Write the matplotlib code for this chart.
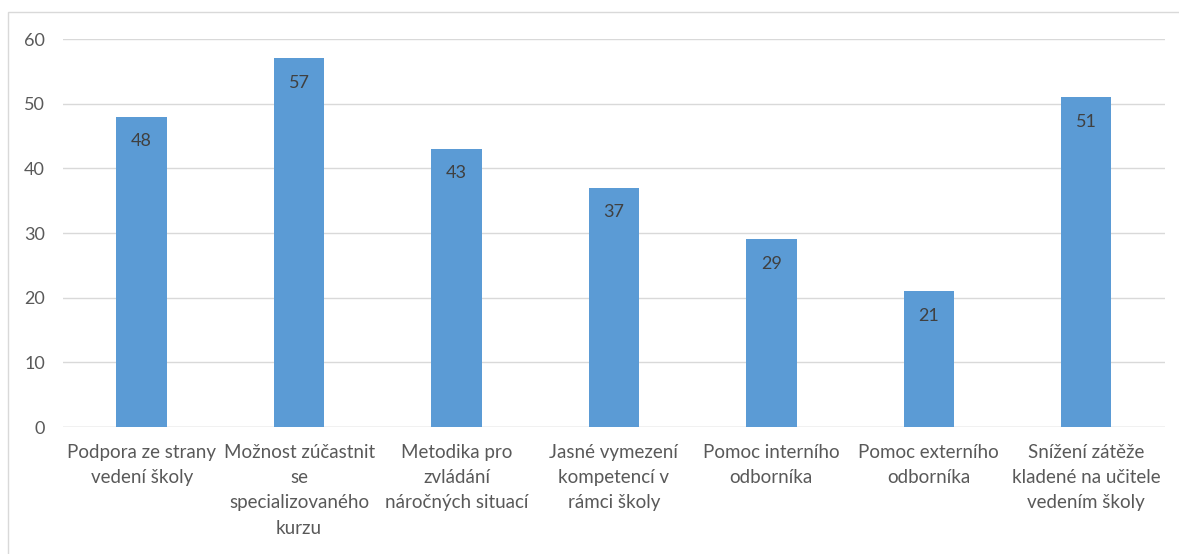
import matplotlib.pyplot as plt
from matplotlib.patches import Rectangle

categories = [
    "Podpora ze strany\nvedení školy",
    "Možnost zúčastnit\nse\nspecializovaného\nkurzu",
    "Metodika pro\nzvládání\nnáročných situací",
    "Jasné vymezení\nkompetencí v\nrámci školy",
    "Pomoc interního\nodborníka",
    "Pomoc externího\nodborníka",
    "Snížení zátěže\nkladené na učitele\nvedením školy",
]
values = [48, 57, 43, 37, 29, 21, 51]
y_ticks = [0, 10, 20, 30, 40, 50, 60]

plt.rcParams['font.family'] = ['Lato', 'DejaVu Sans']

fig = plt.figure(figsize=(11.79, 5.54), dpi=100)
ax = fig.add_axes([0.0534, 0.2292, 0.9346, 0.7004])

x = range(len(values))
bars = ax.bar(x, values, width=0.32, color='#5B9BD5', zorder=2)

for b, v in zip(bars, values):
    ax.annotate(str(v), (b.get_x() + b.get_width() / 2, v),
                xytext=(0, -17.5), textcoords='offset points',
                ha='center', va='center', fontsize=13, color='#404040')

ax.set_xlim(-0.5, len(values) - 0.5)
ax.set_ylim(0, 60)
ax.set_yticks(y_ticks)
ax.set_xticks(list(x))
ax.set_xticklabels(categories, linespacing=1.6)
ax.tick_params(axis='x', length=0, pad=12, labelsize=13.5, labelcolor='#595959')
ax.tick_params(axis='y', length=0, pad=13, labelsize=13, labelcolor='#595959')
ax.grid(axis='y', color='#D9D9D9', linewidth=1, zorder=0)
for s in ax.spines.values():
    s.set_visible(False)
ax.axhline(0, color='#D9D9D9', linewidth=1, zorder=1)

# outer chart border
fig.patches.append(Rectangle((8 / 1179, -0.1), 1.2, 1 - 12 / 554 + 0.1,
                             transform=fig.transFigure, fill=False,
                             edgecolor='#D9D9D9', linewidth=1))

fig.savefig('out.png', dpi=100)
